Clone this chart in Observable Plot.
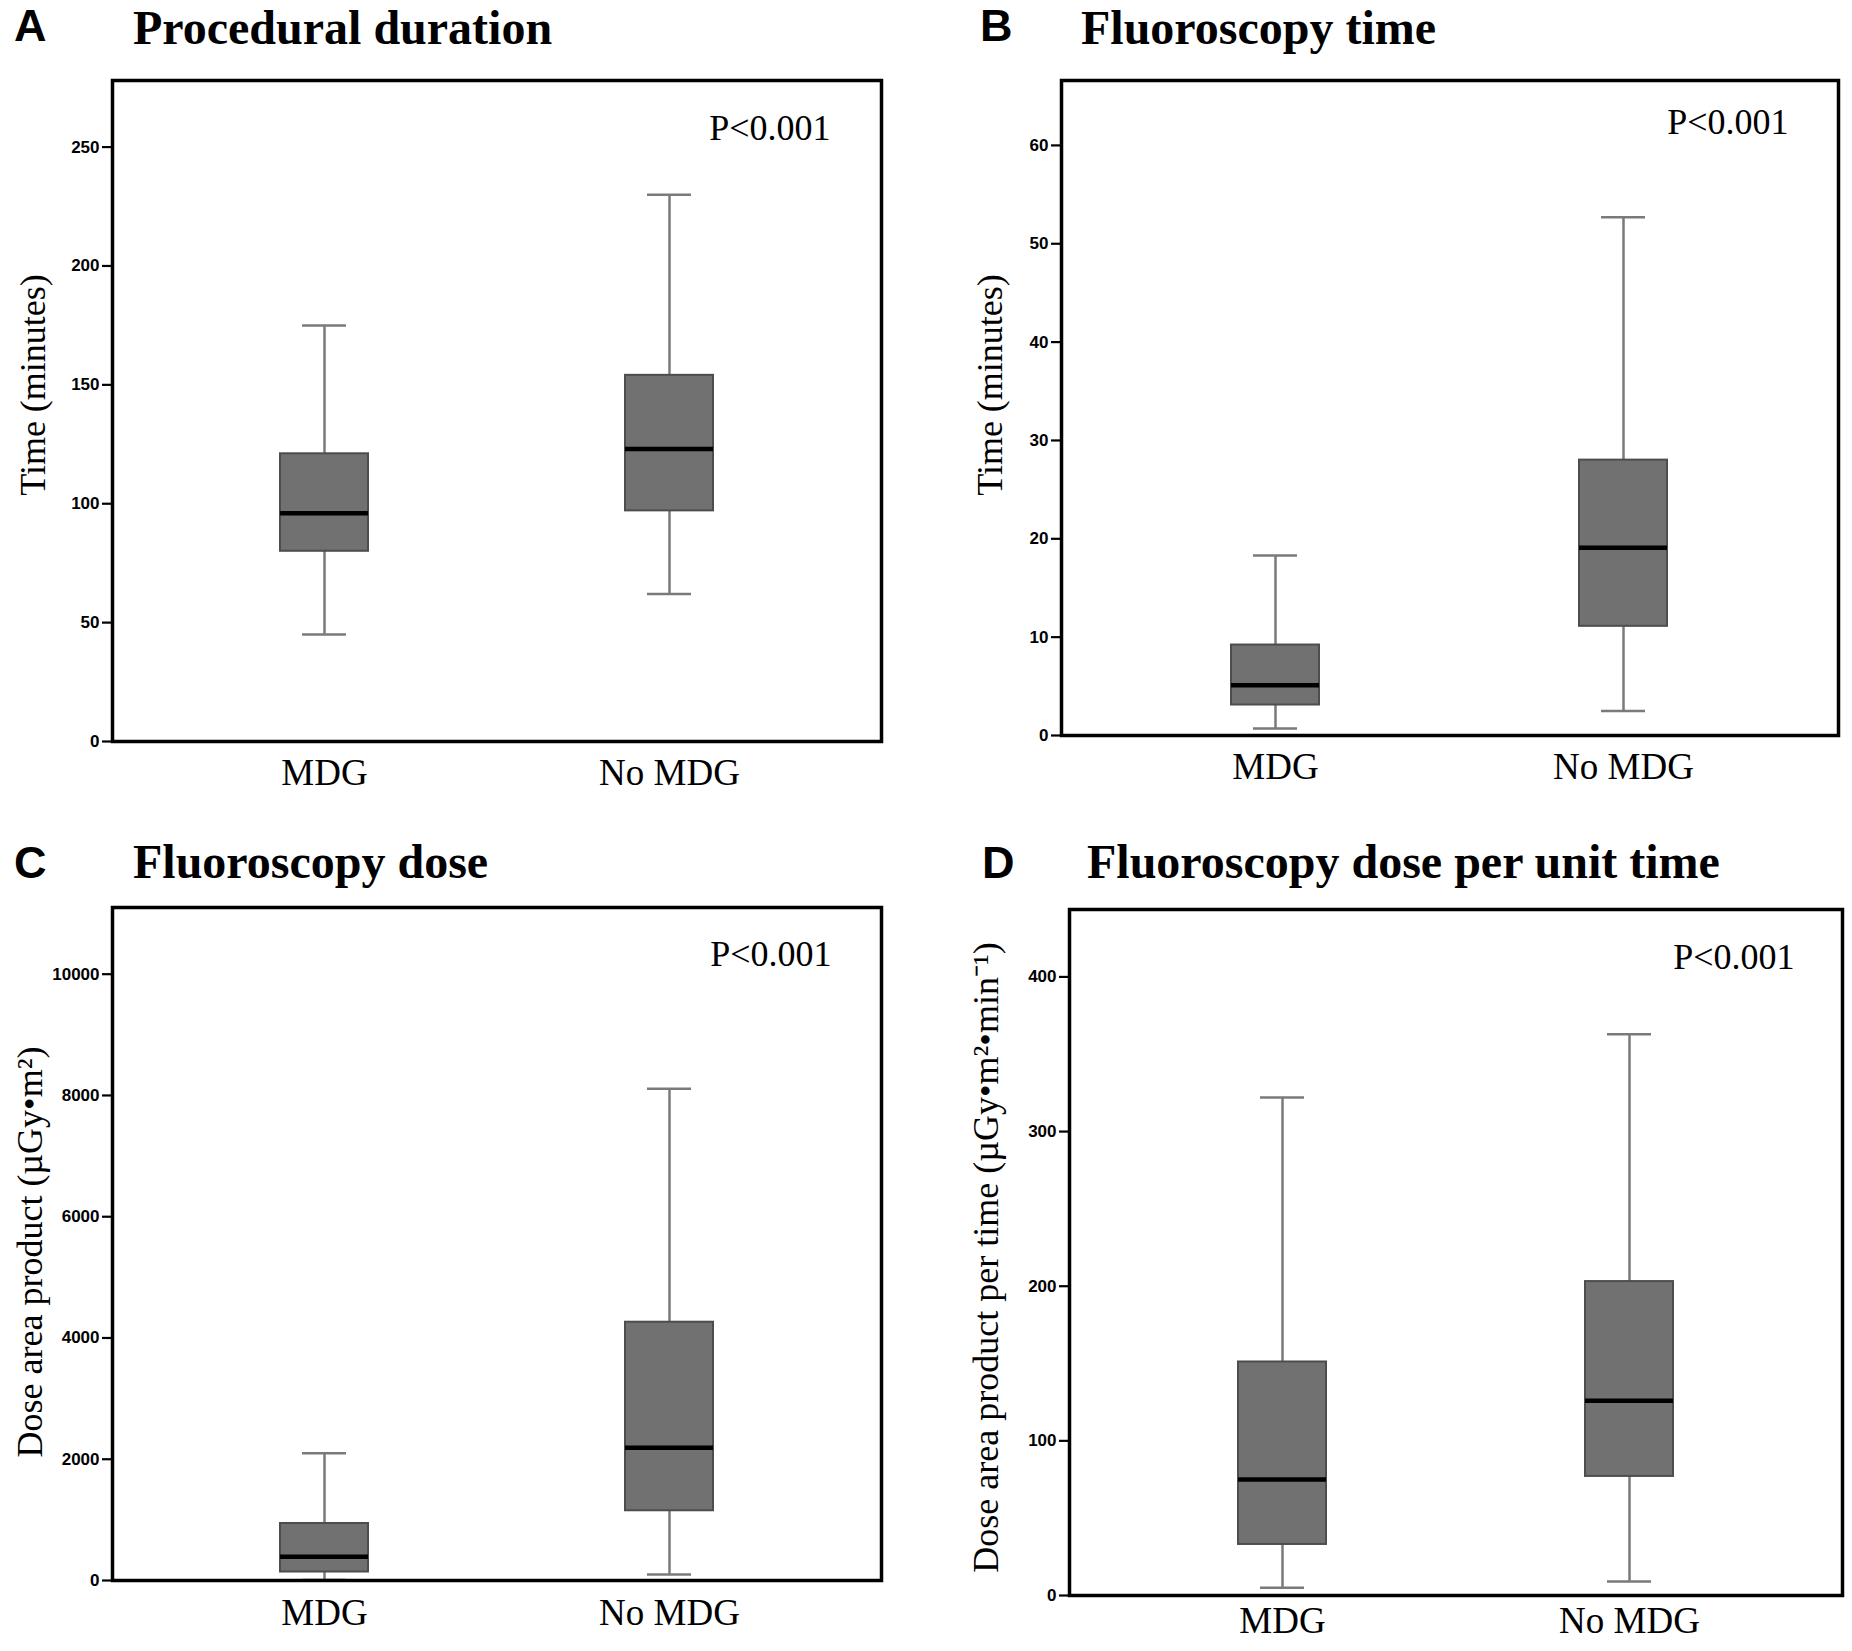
<!DOCTYPE html>
<html>
<head>
<meta charset="utf-8">
<script src="https://cdn.jsdelivr.net/npm/d3@7"></script>
<script src="https://cdn.jsdelivr.net/npm/@observablehq/plot@0.6"></script>
<style>
  body { margin: 0; background: white; }
  #fig { position: relative; width: 1852px; height: 1651px; background: white; overflow: hidden; }
  .letter { position: absolute; font: bold 45px "Liberation Sans", Arial, sans-serif; line-height: 1; color: black; }
  .title { position: absolute; font: bold 48px "Liberation Serif", "Times New Roman", serif; line-height: 1; color: black; white-space: nowrap; }
  svg { position: absolute; }
</style>
</head>
<body>
<div id="fig"></div>
<script>
// ---------- data ----------
const groups = ["MDG", "No MDG"];
const pLabel = "P<0.001";

// A: Procedural duration (minutes)
const durLow = [45, 62];
const durQ1 = [80, 97];
const durMedian = [96, 123];
const durQ3 = [121, 154];
const durHigh = [175, 230];
const durTicks = [0, 50, 100, 150, 200, 250];

// B: Fluoroscopy time (minutes)
const ftLow = [0.7, 2.5];
const ftQ1 = [3.1, 11.1];
const ftMedian = [5.1, 19.1];
const ftQ3 = [9.2, 28.0];
const ftHigh = [18.3, 52.7];
const ftTicks = [0, 10, 20, 30, 40, 50, 60];

// C: Fluoroscopy dose (µGy•m²)
const fdLow = [10, 100];
const fdQ1 = [140, 1150];
const fdMedian = [390, 2190];
const fdQ3 = [940, 4260];
const fdHigh = [2100, 8110];
const fdTicks = [0, 2000, 4000, 6000, 8000, 10000];

// D: Fluoroscopy dose per unit time
const fpLow = [5, 9];
const fpQ1 = [33, 77];
const fpMedian = [75, 126];
const fpQ3 = [151, 203];
const fpHigh = [322, 363];
const fpTicks = [0, 100, 200, 300, 400];

const letters = ["A", "B", "C", "D"];
const titles = ["Procedural duration", "Fluoroscopy time", "Fluoroscopy dose", "Fluoroscopy dose per unit time"];
const yLabels = ["Time (minutes)", "Time (minutes)", "Dose area product (µGy•m²)", "Dose area product per time (µGy•m²•min⁻¹)"];

// ---------- build ----------
function rowsOf(lo, q1, med, q3, hi) {
  return groups.map((g, i) => ({group: g, lo: lo[i], q1: q1[i], med: med[i], q3: q3[i], hi: hi[i]}));
}

const panels = [
  {rows: rowsOf(durLow, durQ1, durMedian, durQ3, durHigh), ticks: durTicks, ymax: 278,
   left: 0, top: 0, width: 926, height: 825, ml: 112, mr: 45, mt: 80, mb: 84,
   ldx: -79, ldy: -26, pdx: -51, pdy: 59, xpad: 17,
   letterPos: [14, 3], titlePos: [133, 4]},
  {rows: rowsOf(ftLow, ftQ1, ftMedian, ftQ3, ftHigh), ticks: ftTicks, ymax: 66.6,
   left: 926, top: 0, width: 926, height: 825, ml: 135, mr: 14, mt: 80, mb: 90,
   ldx: -71, ldy: -23, pdx: -50, pdy: 53, xpad: 17,
   letterPos: [980, 3], titlePos: [1081, 4]},
  {rows: rowsOf(fdLow, fdQ1, fdMedian, fdQ3, fdHigh), ticks: fdTicks, ymax: 11100,
   left: 0, top: 825, width: 926, height: 826, ml: 112, mr: 45, mt: 82, mb: 71,
   ldx: -82, ldy: 8, pdx: -50, pdy: 58, xpad: 18,
   letterPos: [14, 840], titlePos: [133, 838]},
  {rows: rowsOf(fpLow, fpQ1, fpMedian, fpQ3, fpHigh), ticks: fpTicks, ymax: 443.6,
   left: 926, top: 825, width: 926, height: 826, ml: 143, mr: 10, mt: 84, mb: 56,
   ldx: -83, ldy: 5, pdx: -48, pdy: 59, xpad: 11,
   letterPos: [982, 840], titlePos: [1087, 838]}
];

const fig = document.getElementById("fig");
const whisker = "#7a7a7a";

panels.forEach((p, k) => {
  const svg = Plot.plot({
    width: p.width, height: p.height,
    marginLeft: p.ml, marginRight: p.mr, marginTop: p.mt, marginBottom: p.mb,
    style: {background: "transparent", color: "black", fontFamily: "Liberation Serif"},
    x: {type: "band", domain: groups, paddingInner: 0.746, paddingOuter: 0.4865, axis: null},
    y: {domain: [0, p.ymax], axis: null},
    marks: [
      Plot.ruleX(p.rows, {x: "group", y1: "lo", y2: "q1", stroke: whisker, strokeWidth: 2.5}),
      Plot.ruleX(p.rows, {x: "group", y1: "q3", y2: "hi", stroke: whisker, strokeWidth: 2.5}),
      Plot.tickY(p.rows, {x: "group", y: "lo", insetLeft: 22, insetRight: 22, stroke: whisker, strokeWidth: 2.5}),
      Plot.tickY(p.rows, {x: "group", y: "hi", insetLeft: 22, insetRight: 22, stroke: whisker, strokeWidth: 2.5}),
      Plot.barY(p.rows, {x: "group", y1: "q1", y2: "q3", fill: "#717171", stroke: "#4d4d4d", strokeWidth: 2}),
      Plot.tickY(p.rows, {x: "group", y: "med", stroke: "black", strokeWidth: 4.5}),
      Plot.axisY({ticks: p.ticks, tickSize: 10, tickPadding: 3, tickFormat: d => String(d),
        fontSize: 17, fontWeight: 900, fontFamily: "Liberation Sans", label: null, strokeWidth: 2.2}),
      Plot.axisX({tickSize: 0, tickPadding: p.xpad, fontSize: 37, fontFamily: "Liberation Serif", label: null}),
      Plot.text([yLabels[k]], {text: d => d, frameAnchor: "left", rotate: -90, textAnchor: "middle",
        dx: p.ldx, dy: p.ldy, fontSize: 36, fontFamily: "Liberation Serif"}),
      Plot.text([pLabel], {text: d => d, frameAnchor: "top-right", textAnchor: "end", lineAnchor: "bottom",
        dx: p.pdx, dy: p.pdy, fontSize: 36, fontFamily: "Liberation Serif"}),
      Plot.frame({stroke: "black", strokeWidth: 3.5})
    ]
  });
  svg.style.left = p.left + "px";
  svg.style.top = p.top + "px";
  fig.appendChild(svg);

  const L = document.createElement("div");
  L.className = "letter";
  L.textContent = letters[k];
  L.style.left = p.letterPos[0] + "px";
  L.style.top = p.letterPos[1] + "px";
  fig.appendChild(L);

  const T = document.createElement("div");
  T.className = "title";
  T.textContent = titles[k];
  T.style.left = p.titlePos[0] + "px";
  T.style.top = p.titlePos[1] + "px";
  fig.appendChild(T);
});
</script>
</body>
</html>
